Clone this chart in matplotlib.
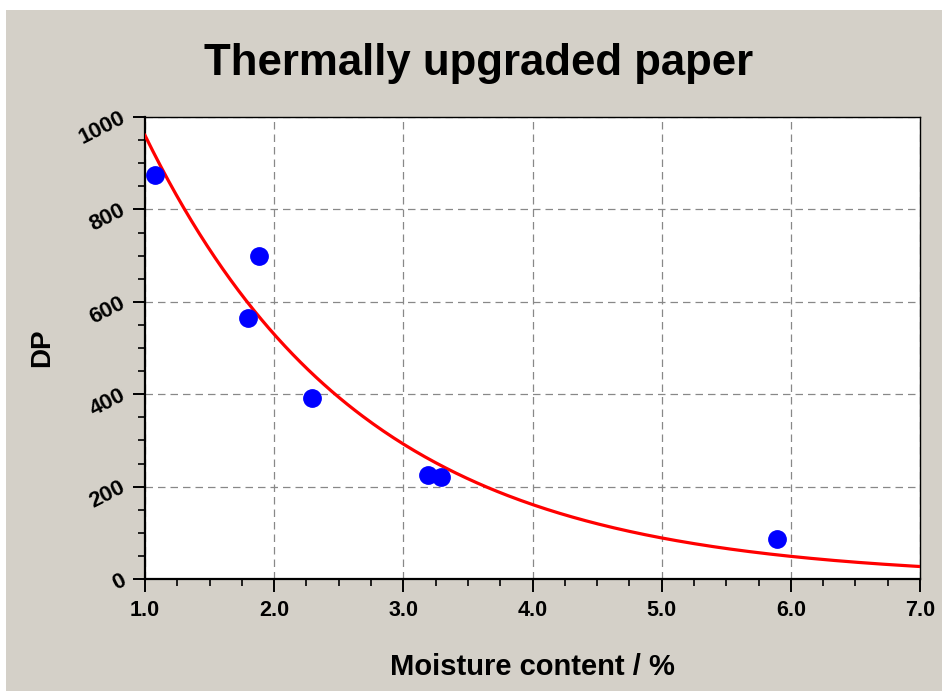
import numpy as np
import matplotlib
matplotlib.use('Agg')
import matplotlib.pyplot as plt
from matplotlib.patches import Rectangle
from matplotlib.ticker import MultipleLocator, FormatStrFormatter

# measured points
moisture = [1.08, 1.80, 1.88, 2.29, 3.19, 3.29, 5.89]
dp = [874, 566, 700, 392, 225, 220, 87]

# exponential fit DP = A*exp(-B*m)
FIT_A = 1741.0
FIT_B = 0.595

x_ticks = [1.0, 2.0, 3.0, 4.0, 5.0, 6.0, 7.0]
y_ticks = [0, 200, 400, 600, 800, 1000]

plt.rcParams['font.family'] = ['Liberation Sans', 'DejaVu Sans']

fig = plt.figure(figsize=(9.42, 6.91), dpi=100, facecolor='white')
# gray panel behind the chart
fig.patches.append(Rectangle((6/942, 0), 1, 1 - 10/691, transform=fig.transFigure,
                             facecolor='#d4d0c8', edgecolor='none', zorder=-5))

ax = fig.add_axes([145/942, 1 - 579/691, 775/942, 462/691])
ax.set_facecolor('white')

mfit = np.linspace(1.0, 7.0, 300)
ax.plot(mfit, FIT_A * np.exp(-FIT_B * mfit), color='red', lw=2.3, zorder=3)
ax.plot(moisture, dp, 'o', color='blue', ms=12.5, zorder=4)

ax.set_xlim(1.0, 7.0)
ax.set_ylim(0, 1000)
ax.set_xticks(x_ticks)
ax.set_yticks(y_ticks)
ax.xaxis.set_minor_locator(MultipleLocator(0.25))
ax.yaxis.set_minor_locator(MultipleLocator(50))
ax.xaxis.set_major_formatter(FormatStrFormatter('%.1f'))

ax.grid(True, which='major', color='#888888', linestyle=(0, (6, 4)), lw=0.9)
ax.set_axisbelow(True)

for s in ax.spines.values():
    s.set_color('black')
    s.set_linewidth(1.0)
ax.spines['left'].set_linewidth(1.6)
ax.spines['bottom'].set_linewidth(1.6)

ax.tick_params(which='major', direction='out', length=9, width=1.4, color='black')
ax.tick_params(which='minor', direction='out', length=5, width=1.2, color='black')
ax.tick_params(top=False, right=False)
ax.tick_params(axis='x', pad=6)
ax.tick_params(axis='y', pad=6)

for lbl in ax.get_xticklabels():
    lbl.set_fontsize(15.5)
    lbl.set_fontweight('bold')
for lbl in ax.get_yticklabels():
    lbl.set_fontsize(16)
    lbl.set_fontweight('bold')
    lbl.set_rotation(27)
    lbl.set_rotation_mode('anchor')
    lbl.set_ha('right')
    lbl.set_va('center')

ax.set_xlabel('Moisture content / %', fontsize=21, fontweight='bold')
ax.xaxis.set_label_coords(0.5, -(653 - 579) / 462)
ax.set_ylabel('DP', fontsize=20, fontweight='bold')
ax.yaxis.set_label_coords(-(145 - 55) / 775, 0.5)

fig.text(479/942, 1 - 64/691, 'Thermally upgraded paper', fontsize=31.5,
         fontweight='bold', ha='center', va='center')

fig.savefig('out.png', dpi=100, facecolor=fig.get_facecolor())
